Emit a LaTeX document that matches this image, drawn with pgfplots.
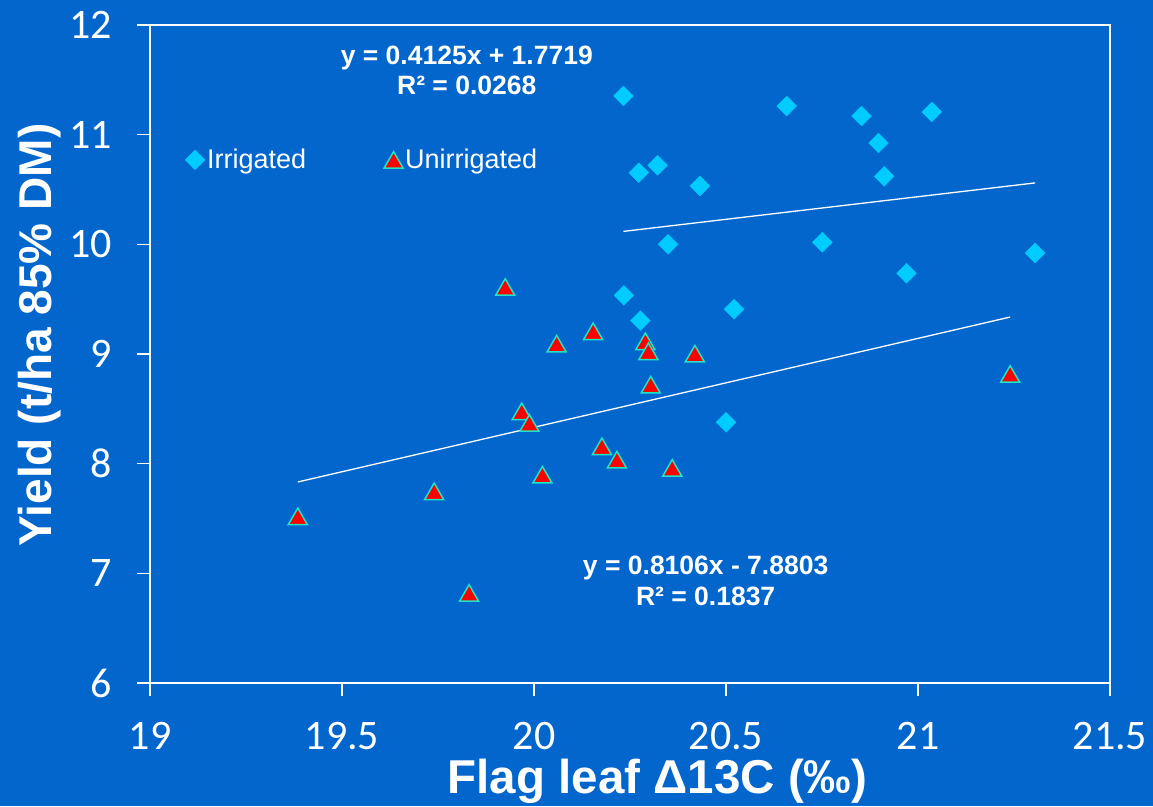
\documentclass[border=0pt]{standalone}
\usepackage{fontspec}
\setmainfont{Liberation Sans}
\newfontfamily\carlito{Carlito}
\usepackage{pgfplots}
\pgfplotsset{compat=1.18}
\definecolor{bg}{HTML}{0366CC}
\definecolor{diam}{HTML}{00CCFF}
\definecolor{tri}{HTML}{1DE5C5}
\begin{document}
\begin{tikzpicture}
\useasboundingbox (0,0) rectangle (1153pt,806pt);
\fill[bg] (0,0) rectangle (1153pt,806pt);
\begin{axis}[
  at={(150pt,123pt)}, anchor=south west,
  scale only axis, width=960pt, height=658pt,
  xmin=19, xmax=21.5, ymin=6, ymax=12,
  xtick={19,19.5,20,20.5,21,21.5}, ytick={6,7,8,9,10,11,12},
  axis line style={white, line width=1.2pt},
  tick style={white, line width=1.2pt},
  major tick length=13pt, tick align=outside,
  xtick pos=left, ytick pos=left,
  /pgf/number format/assume math mode=true,
  ticklabel style={font=\carlito\fontsize{42}{42}\selectfont, text=white, inner sep=0pt},
  xticklabel style={anchor=north, yshift=-26pt},
  yticklabel style={anchor=east, xshift=-25pt},
  xlabel={Flag leaf Δ13C (‰)},
  ylabel={Yield (t/ha 85\% DM)},
  label style={text=white, inner sep=0pt},
  xlabel style={font=\bfseries\fontsize{47.5}{47.5}\selectfont, at={(axis description cs:0.5286,-0.1672)}, anchor=base},
  ylabel style={font=\bfseries\fontsize{46}{46}\selectfont, at={(axis description cs:-0.1021,0.529)}, anchor=base},
  legend columns=2,
  legend style={at={(axis description cs:0.0365,0.795)}, anchor=west, draw=none, fill=none,
    text=white, font=\fontsize{27}{27}\selectfont, inner sep=0pt,
    /tikz/every even column/.append style={column sep=76pt}},
  legend image code/.code={\draw[mark repeat=2,mark phase=2,#1] plot coordinates {(0pt,0pt) (10pt,0pt) (20pt,0pt)};},
]
\addplot[only marks, mark=square*, mark size=7pt, mark options={rotate=45, fill=diam, draw=diam}]
coordinates {
(20.233,11.353) (20.658,11.261) (20.853,11.170) (21.036,11.207) (20.897,10.924)
(20.912,10.620) (20.273,10.653) (20.322,10.721) (20.432,10.532) (20.349,10.000)
(20.751,10.019) (20.970,9.736) (21.305,9.921) (20.234,9.535) (20.521,9.408)
(20.277,9.304) (20.500,8.377)
};
\addlegendentry{Irrigated}
\addplot[only marks, mark=triangle*, mark size=11pt, mark options={fill=red, draw=tri, line width=1.5pt, yshift=-2.75pt}]
coordinates {
(19.385,7.520) (19.740,7.748) (19.831,6.821) (19.925,9.611) (19.968,8.477)
(19.988,8.371) (20.022,7.899) (20.059,9.094) (20.154,9.207) (20.177,8.158)
(20.216,8.036) (20.290,9.116) (20.298,9.025) (20.304,8.720) (20.360,7.961)
(20.419,9.003) (21.240,8.818)
};
\addlegendentry{Unirrigated}
\addplot[white, line width=1.3pt, forget plot] coordinates {(20.233,10.118) (21.305,10.560)};
\addplot[white, line width=1.3pt, forget plot] coordinates {(19.385,7.833) (21.240,9.337)};
\node[text=white, font=\bfseries\fontsize{26.5}{26.5}\selectfont, anchor=base, inner sep=0pt] at (axis cs:19.825,11.642) {y = 0.4125x + 1.7719};
\node[text=white, font=\bfseries\fontsize{26.5}{26.5}\selectfont, anchor=base, inner sep=0pt] at (axis cs:19.825,11.362) {R² = 0.0268};
\node[text=white, font=\bfseries\fontsize{26.5}{26.5}\selectfont, anchor=base, inner sep=0pt] at (axis cs:20.447,6.991) {y = 0.8106x - 7.8803};
\node[text=white, font=\bfseries\fontsize{26.5}{26.5}\selectfont, anchor=base, inner sep=0pt] at (axis cs:20.447,6.711) {R² = 0.1837};
\end{axis}
\end{tikzpicture}
\end{document}
